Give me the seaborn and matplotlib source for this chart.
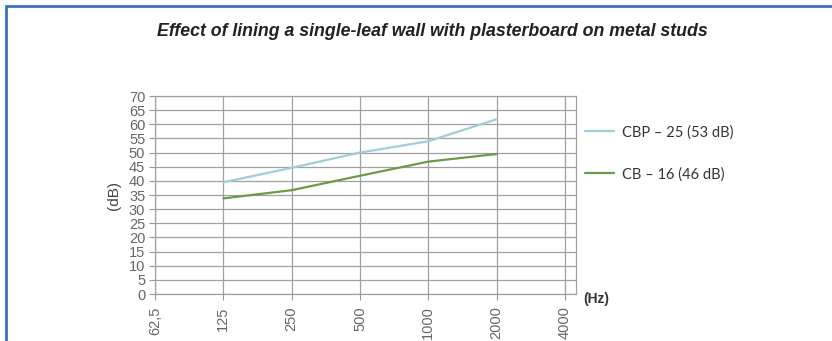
import numpy as np
import pandas as pd
import matplotlib
matplotlib.use("Agg")
import matplotlib.pyplot as plt
from matplotlib.patches import Rectangle
import seaborn as sns

# Frequenze di banda (Hz) e valori
freqs = [125, 250, 500, 1000, 2000]
cbp25 = [39.5, 44.6, 50.0, 54.0, 61.8]
cb16 = [33.8, 36.7, 41.8, 46.8, 49.5]
series_names = ["CBP – 25 (53 dB)", "CB – 16 (46 dB)"]
xticks = [62.5, 125, 250, 500, 1000, 2000, 4000]
xtick_labels = ["62,5", "125", "250", "500", "1000", "2000", "4000"]
yticks = list(range(0, 75, 5))

df = pd.DataFrame({
    "freq": freqs * 2,
    "db": cbp25 + cb16,
    "serie": [series_names[0]] * len(freqs) + [series_names[1]] * len(freqs),
})

sns.set_style("white")
plt.rcParams["font.family"] = ["Liberation Sans", "DejaVu Sans"]

fig = plt.figure(figsize=(8.32, 3.41), dpi=100)
ax = fig.add_axes([155 / 832, 1 - 294 / 341, (576 - 155) / 832, (294 - 96) / 341])

palette = {series_names[0]: "#a3ccd9", series_names[1]: "#6c9a48"}
sns.lineplot(data=df, x="freq", y="db", hue="serie", palette=palette,
             linewidth=1.6, ax=ax, legend=True)

ax.set_xscale("log", base=2)
ax.set_xlim(62.5, 4000 * 2 ** (11 / 68.3))
ax.set_ylim(0, 70)
ax.set_xticks(xticks)
ax.set_xticklabels(xtick_labels, rotation=90, va="top")
ax.xaxis.set_minor_locator(plt.NullLocator())
ax.set_yticks(yticks)
ax.tick_params(axis="both", labelsize=10.5, labelcolor="#666666", color="#999999",
               length=4, width=0.8, direction="out", left=True, bottom=True, pad=3)
ax.tick_params(axis="x", pad=5)
ax.grid(True, color="#a0a0a0", linewidth=0.9)
for s in ax.spines.values():
    s.set_color("#a0a0a0")
    s.set_linewidth(0.9)

ax.set_xlabel("")
ax.set_ylabel("(dB)", fontsize=11, color="#444444", labelpad=6)

leg = ax.legend(loc="upper left", bbox_to_anchor=(572 / 832, 1 - 112 / 341),
                bbox_transform=fig.transFigure, frameon=False, fontsize=10.5,
                handlelength=2.0, handletextpad=0.5, labelspacing=1.9)
for t in leg.get_texts():
    t.set_color("#333333")
    t.set_fontfamily(["Lato", "DejaVu Sans"])

fig.text(432 / 832, 1 - 32 / 341,
         "Effect of lining a single-leaf wall with plasterboard on metal studs",
         ha="center", va="center", fontsize=12.8, fontweight="bold", style="italic",
         color="#222222")
fig.text(583 / 832, 1 - 299 / 341, "(Hz)", ha="left", va="center", fontsize=10,
         fontweight="bold", color="#333333")

# cornice blu (solo lati sinistro e superiore visibili)
fig.patches.append(Rectangle((6 / 832, -0.1), 1.0, 1 - 6 / 341 + 0.1,
                             transform=fig.transFigure, fill=False,
                             edgecolor="#3b6fc1", linewidth=2))

fig.savefig("out.png", dpi=100)
